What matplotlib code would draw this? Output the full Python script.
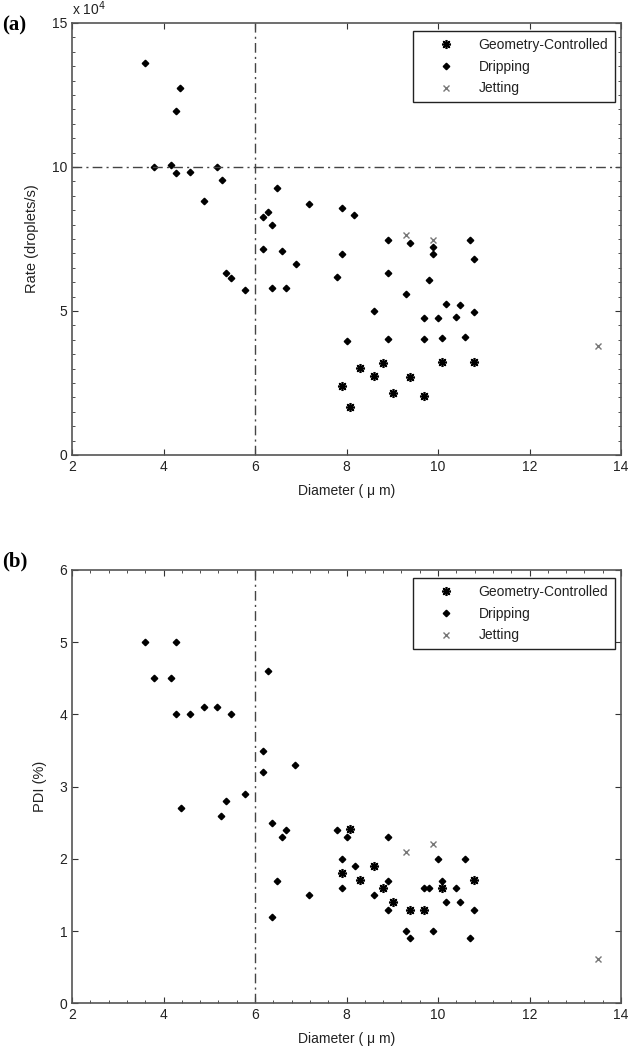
import numpy as np
import matplotlib.pyplot as plt
from matplotlib.ticker import MultipleLocator

# (a) rate, in units of 1e4 droplets/s
geo_d_a = [10.09, 10.79, 8.8, 8.29, 8.59, 9.39, 7.9, 9.01, 9.69, 8.08]
geo_r_a = [3.24, 3.24, 3.18, 3.01, 2.75, 2.71, 2.41, 2.16, 2.04, 1.68]

drip_d_a = [3.6, 4.37, 4.27, 3.79, 4.17, 4.27, 4.58, 5.17, 5.27, 4.89,
            6.47, 7.18, 7.9, 6.28, 6.17, 6.38, 6.17, 6.58, 7.9, 6.89,
            5.37, 5.48, 7.79, 5.79, 6.38, 6.68, 8.0, 8.17, 8.9, 9.39,
            9.9, 9.9, 10.7, 10.79, 8.9, 9.8, 9.29, 10.17, 10.49, 8.59,
            10.79, 9.69, 10.0, 10.39, 8.9, 9.69, 10.08, 10.59]
drip_r_a = [13.6, 12.73, 11.96, 10.0, 10.08, 9.79, 9.84, 10.0, 9.55, 8.82,
            9.26, 8.7, 8.58, 8.45, 8.28, 8.0, 7.15, 7.07, 6.98, 6.62,
            6.33, 6.13, 6.17, 5.72, 5.81, 5.81, 3.95, 8.32, 7.48, 7.36,
            7.23, 6.98, 7.48, 6.82, 6.33, 6.09, 5.6, 5.25, 5.21, 5.0,
            4.95, 4.76, 4.76, 4.8, 4.02, 4.02, 4.05, 4.11]

jet_d_a = [9.29, 9.9, 13.49]
jet_r_a = [7.64, 7.45, 3.77]

# (b) PDI in %
geo_d_b = [8.08, 8.59, 7.9, 8.29, 8.8, 9.01, 9.39, 9.69, 10.09, 10.79]
geo_p_b = [2.41, 1.9, 1.81, 1.71, 1.6, 1.41, 1.3, 1.3, 1.6, 1.71]

drip_d_b = [3.6, 4.27, 3.79, 4.17, 4.27, 4.58, 4.89, 5.17, 5.48, 6.28,
            6.17, 6.88, 6.17, 5.79, 5.37, 4.38, 5.26, 6.38, 6.68, 6.58,
            7.79, 8.0, 7.9, 7.9, 6.48, 7.18, 6.38, 8.9, 8.18, 8.9,
            8.59, 8.9, 9.29, 9.39, 10.0, 10.59, 10.09, 9.69, 9.8, 10.39,
            10.17, 10.49, 10.79, 9.9, 10.69]
drip_p_b = [5.0, 5.0, 4.5, 4.5, 4.0, 4.0, 4.1, 4.1, 4.0, 4.6,
            3.5, 3.3, 3.2, 2.9, 2.8, 2.7, 2.6, 2.5, 2.4, 2.3,
            2.4, 2.3, 2.0, 1.6, 1.7, 1.5, 1.2, 2.3, 1.9, 1.7,
            1.5, 1.3, 1.0, 0.9, 2.0, 2.0, 1.7, 1.6, 1.6, 1.6,
            1.4, 1.4, 1.3, 1.0, 0.9]

jet_d_b = [9.29, 9.9, 13.49]
jet_p_b = [2.1, 2.21, 0.61]

d_cut = 6
rate_cut = 10

plt.rcParams['font.family'] = ['Liberation Sans', 'DejaVu Sans']
txt = '#222222'
star = (8, 2, 0)


def draw_panel(ax, gd, gy, dd, dy, jd, jy):
    ax.plot(gd, gy, linestyle='none', marker=star, ms=6.5, mew=1.2,
            color='black', label='Geometry-Controlled')
    ax.plot(dd, dy, linestyle='none', marker='D', ms=3.3,
            color='black', label='Dripping')
    ax.plot(jd, jy, linestyle='none', marker='x', ms=4.5, mew=1.0,
            color='#777777', label='Jetting')
    ax.axvline(d_cut, color='#444444', lw=1.0, dashes=(7, 3, 1.5, 3))
    ax.set_xlim(2, 14)
    ax.xaxis.set_major_locator(MultipleLocator(2))
    ax.tick_params(which='both', direction='in', top=True, right=True,
                   labelsize=10, colors='#333333', labelcolor=txt)
    ax.tick_params(which='major', length=4)
    ax.tick_params(which='minor', length=2.5)
    for s in ax.spines.values():
        s.set_color('#555555')
        s.set_linewidth(1.2)
    ax.set_xlabel('Diameter ( μ m)', fontsize=10, color=txt, labelpad=7)
    leg = ax.legend(loc='upper right', bbox_to_anchor=(0.989, 0.981),
                    borderaxespad=0, fancybox=False, fontsize=10,
                    labelspacing=0.55, handletextpad=0.4, handlelength=3.8,
                    borderpad=0.5, framealpha=1)
    leg.get_frame().set_edgecolor('#222222')
    leg.get_frame().set_linewidth(1.0)
    for t in leg.get_texts():
        t.set_color(txt)


fig = plt.figure(figsize=(6.29, 10.5), dpi=100)

ax1 = fig.add_axes([0.1145, 0.5667, 0.8728, 0.4114])
draw_panel(ax1, geo_d_a, geo_r_a, drip_d_a, drip_r_a, jet_d_a, jet_r_a)
ax1.axhline(rate_cut, color='#444444', lw=1.0, dashes=(7, 3, 1.5, 3))
ax1.set_ylim(0, 15)
ax1.yaxis.set_major_locator(MultipleLocator(5))
ax1.yaxis.set_minor_locator(MultipleLocator(0.5))
ax1.set_ylabel('Rate (droplets/s)', fontsize=10.5, color=txt, labelpad=9)
ax1.text(0.0, 1.012, 'x 10$^4$', transform=ax1.transAxes, fontsize=10,
         color=txt, ha='left', va='bottom')
fig.text(0.003, 0.976, '(a)', fontsize=15, fontweight='bold',
         family='Liberation Serif', va='center')

ax2 = fig.add_axes([0.1145, 0.0443, 0.8728, 0.4129])
draw_panel(ax2, geo_d_b, geo_p_b, drip_d_b, drip_p_b, jet_d_b, jet_p_b)
ax2.set_ylim(0, 6)
ax2.yaxis.set_major_locator(MultipleLocator(1))
ax2.xaxis.set_minor_locator(MultipleLocator(0.4))
ax2.set_ylabel('PDI (%)', fontsize=10.5, color=txt, labelpad=9)
fig.text(0.003, 0.465, '(b)', fontsize=15, fontweight='bold',
         family='Liberation Serif', va='center')

fig.savefig('out.png', dpi=100)
